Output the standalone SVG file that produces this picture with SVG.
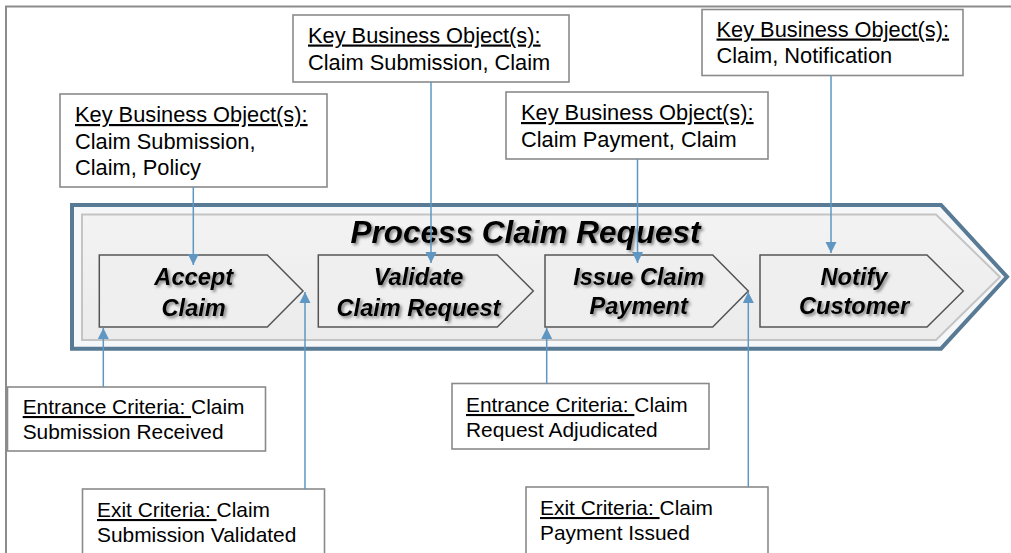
<svg xmlns="http://www.w3.org/2000/svg" width="1011" height="553" viewBox="0 0 1011 553">
<style>
.box{fill:#fff;stroke:#8a8a8a;stroke-width:1.6}
.kbo{font-family:"Liberation Sans",Arial,sans-serif;font-size:21.8px;fill:#000}
.crit{font-family:"Liberation Sans",Arial,sans-serif;font-size:20.9px;fill:#000}
.u{text-decoration:underline}
.chev{fill:#efefef;stroke:#555;stroke-width:1.5}
.step{font-family:"Liberation Sans",Arial,sans-serif;font-size:23.6px;font-weight:bold;font-style:italic;fill:#000;text-anchor:middle;filter:url(#sh)}
.title{font-family:"Liberation Sans",Arial,sans-serif;font-size:31.5px;font-weight:bold;font-style:italic;fill:#000;text-anchor:middle;filter:url(#sh)}
.conn{stroke:#5f97c2;stroke-width:1.5;fill:none;marker-end:url(#ah)}
</style>
<defs>
<filter id="sh" x="-10%" y="-20%" width="130%" height="160%">
<feDropShadow dx="2" dy="2" stdDeviation="1.4" flood-color="#444" flood-opacity="0.65"/>
</filter>
<linearGradient id="bg" x1="0" y1="0" x2="0" y2="1">
<stop offset="0" stop-color="#f3f3f3"/>
<stop offset="1" stop-color="#ebebeb"/>
</linearGradient>
<marker id="ah" markerUnits="userSpaceOnUse" markerWidth="12" markerHeight="12" viewBox="0 0 12 12" refX="11" refY="6" orient="auto">
<path d="M0,0.5 L11,6 L0,11.5 Z" fill="#5f97c2"/>
</marker>
</defs>
<rect x="6" y="6.5" width="1100" height="600" fill="#fff" stroke="#8c8c8c" stroke-width="2"/>
<g id="process">
<polygon points="72,205 941,205 1007,276.8 941,348.7 72,348.7" fill="#f6f7f9" stroke="#587a94" stroke-width="4"/>
<polygon points="82,214.5 936,214.5 1000,277 936,340 82,340" fill="url(#bg)" stroke="#c4c4c4" stroke-width="2"/>
<text class="title" x="525.5" y="243">Process Claim Request</text>
</g>
<g id="accept">
<polygon class="chev" points="99.3,255 267.3,255 303,291 267.3,327 99.3,327"/>
<text class="step" x="193.7" y="285">Accept</text>
<text class="step" x="193.7" y="316">Claim</text>
</g>
<g id="validate">
<polygon class="chev" points="318.3,255 497.3,255 533.3,291 497.3,327 318.3,327"/>
<text class="step" x="418.5" y="285">Validate</text>
<text class="step" x="418.5" y="316">Claim Request</text>
</g>
<g id="issue">
<polygon class="chev" points="545,255 712.7,255 748.3,291 712.7,327 545,327"/>
<text class="step" x="638.7" y="285">Issue Claim</text>
<text class="step" x="638.7" y="314">Payment</text>
</g>
<g id="notify">
<polygon class="chev" points="760,255 927,255 963.3,291 927,327 760,327"/>
<text class="step" x="854" y="285">Notify</text>
<text class="step" x="854" y="314">Customer</text>
</g>
<g id="kbo-accept">
<rect class="box" x="60" y="94" width="267" height="93"/>
<text class="kbo" x="75" y="122"><tspan class="u">Key Business Object(s):</tspan></text>
<text class="kbo" x="75" y="148.5">Claim Submission,</text>
<text class="kbo" x="75" y="175">Claim, Policy</text>
</g>
<g id="kbo-validate">
<rect class="box" x="293" y="15" width="276" height="67"/>
<text class="kbo" x="308" y="42.5"><tspan class="u">Key Business Object(s):</tspan></text>
<text class="kbo" x="308" y="69.5">Claim Submission, Claim</text>
</g>
<g id="kbo-issue">
<rect class="box" x="506" y="92" width="262" height="67"/>
<text class="kbo" x="521" y="120"><tspan class="u">Key Business Object(s):</tspan></text>
<text class="kbo" x="521" y="146.5">Claim Payment, Claim</text>
</g>
<g id="kbo-notify">
<rect class="box" x="702" y="9.5" width="261" height="66"/>
<text class="kbo" x="716.5" y="36.5"><tspan class="u">Key Business Object(s):</tspan></text>
<text class="kbo" x="716.5" y="62.5">Claim, Notification</text>
</g>
<g id="entry-accept">
<rect class="box" x="7.5" y="387" width="258" height="64"/>
<text class="crit" x="22.7" y="414"><tspan class="u">Entrance Criteria: </tspan>Claim</text>
<text class="crit" x="22.7" y="439">Submission Received</text>
</g>
<g id="exit-validate">
<rect class="box" x="82.5" y="489" width="242" height="80"/>
<text class="crit" x="97" y="517"><tspan class="u">Exit Criteria: </tspan>Claim</text>
<text class="crit" x="97" y="541.5">Submission Validated</text>
</g>
<g id="entry-issue">
<rect class="box" x="452" y="383.5" width="257" height="65.5"/>
<text class="crit" x="466" y="412"><tspan class="u">Entrance Criteria: </tspan>Claim</text>
<text class="crit" x="466" y="436.5">Request Adjudicated</text>
</g>
<g id="exit-issue">
<rect class="box" x="526" y="487" width="242" height="80"/>
<text class="crit" x="540" y="515"><tspan class="u">Exit Criteria: </tspan>Claim</text>
<text class="crit" x="540" y="539.5">Payment Issued</text>
</g>
<g id="connectors">
<line class="conn" x1="193.3" y1="187" x2="193.3" y2="265"/>
<line class="conn" x1="431" y1="82" x2="431" y2="263"/>
<line class="conn" x1="637.5" y1="159" x2="637.5" y2="263"/>
<line class="conn" x1="831" y1="75.5" x2="831" y2="253"/>
<line class="conn" x1="103.3" y1="387" x2="103.3" y2="328"/>
<line class="conn" x1="305" y1="489" x2="305" y2="292"/>
<line class="conn" x1="546.7" y1="383.5" x2="546.7" y2="328"/>
<line class="conn" x1="748.3" y1="487" x2="748.3" y2="292"/>
</g>
</svg>
